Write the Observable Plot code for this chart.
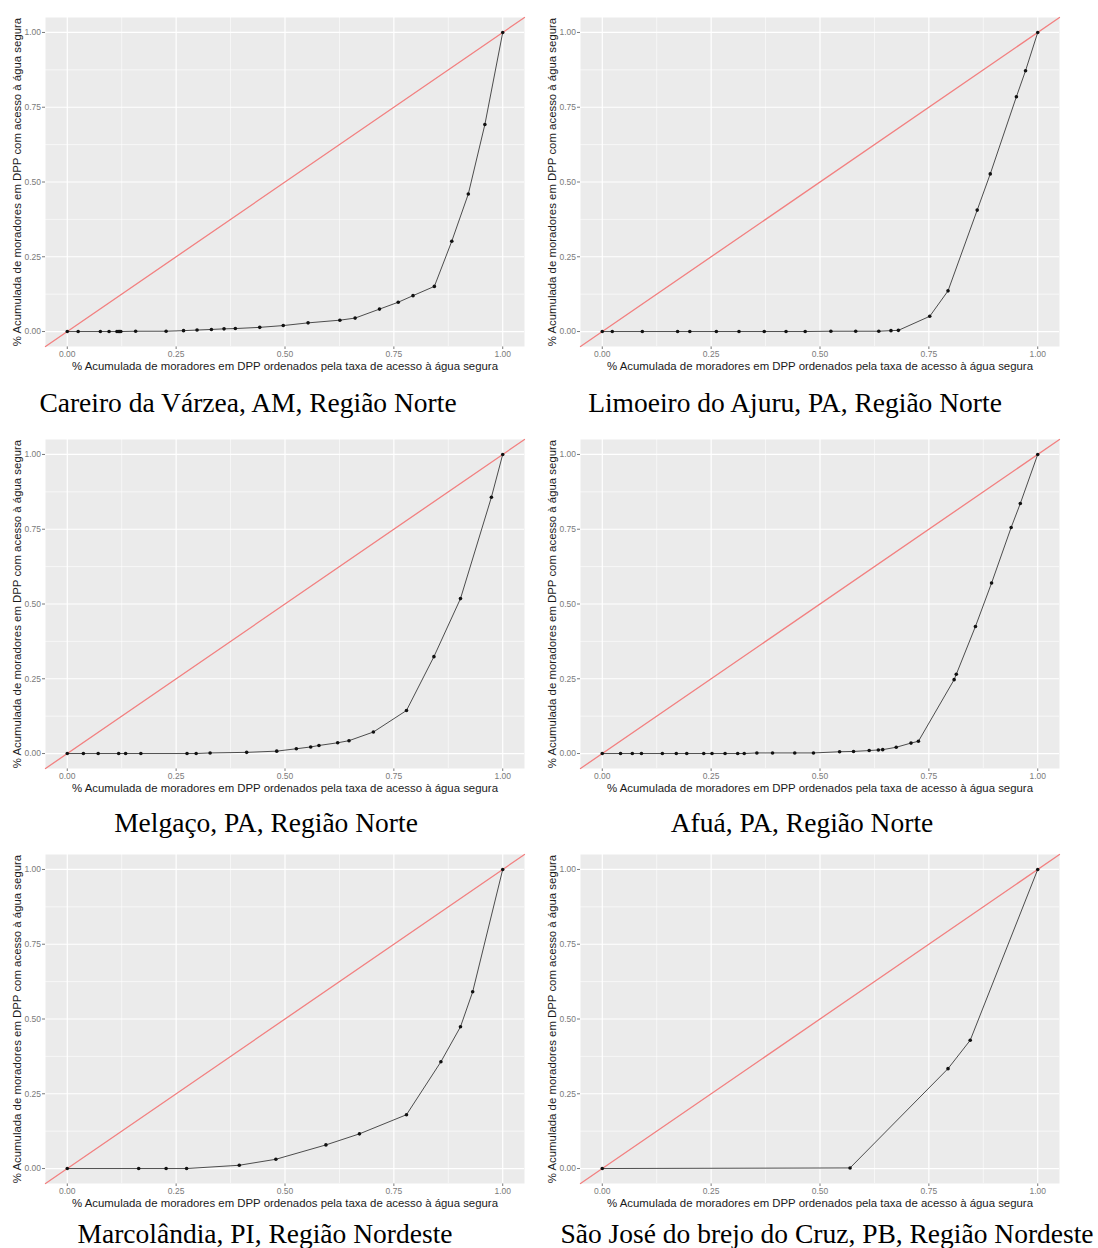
<!DOCTYPE html>
<html>
<head>
<meta charset="utf-8">
<script src="https://cdn.jsdelivr.net/npm/d3@7"></script>
<script src="https://cdn.jsdelivr.net/npm/@observablehq/plot@0.6"></script>
<style>
  html, body { margin: 0; padding: 0; background: #fff; }
  #root { position: relative; width: 1098px; height: 1248px; overflow: hidden; }
  .panel { position: absolute; }
  .caption { position: absolute; width: 700px; text-align: center; font-family: "Liberation Serif", "Times New Roman", serif; font-size: 27.5px; line-height: 28px; color: #000; white-space: nowrap; }
</style>
</head>
<body>
<div id="root"></div>
<script>
// ---- tick labels / axes text ----
const majorTicks = [0, 0.25, 0.5, 0.75, 1];
const minorTicks = [0.125, 0.375, 0.625, 0.875];
const xTitle = "% Acumulada de moradores em DPP ordenados pela taxa de acesso à água segura";
const yTitle = "% Acumulada de moradores em DPP com acesso à água segura";
const captions = [
  "Careiro da Várzea, AM, Região Norte",
  "Limoeiro do Ajuru, PA, Região Norte",
  "Melgaço, PA, Região Norte",
  "Afuá, PA, Região Norte",
  "Marcolândia, PI, Região Nordeste",
  "São José do brejo do Cruz, PB, Região Nordeste"
];

// ---- series ----
const careiroX = [0, 0.025, 0.076, 0.096, 0.114, 0.117, 0.120, 0.123, 0.157, 0.227, 0.267, 0.298, 0.331, 0.360, 0.386, 0.442, 0.496, 0.553, 0.626, 0.661, 0.717, 0.760, 0.794, 0.843, 0.883, 0.921, 0.959, 1];
const careiroY = [0, 0, 0, 0, 0, 0, 0, 0, 0.001, 0.001, 0.003, 0.005, 0.007, 0.009, 0.010, 0.014, 0.020, 0.029, 0.038, 0.045, 0.075, 0.098, 0.120, 0.151, 0.302, 0.460, 0.692, 1];

const limoeiroX = [0, 0.023, 0.092, 0.173, 0.201, 0.262, 0.314, 0.372, 0.422, 0.466, 0.525, 0.582, 0.635, 0.663, 0.680, 0.752, 0.794, 0.861, 0.891, 0.951, 0.972, 1];
const limoeiroY = [0, 0, 0, 0, 0, 0, 0, 0, 0, 0, 0.001, 0.001, 0.001, 0.003, 0.004, 0.051, 0.136, 0.406, 0.527, 0.785, 0.872, 1];

const melgacoX = [0, 0.037, 0.071, 0.118, 0.134, 0.169, 0.275, 0.296, 0.328, 0.412, 0.481, 0.526, 0.559, 0.578, 0.621, 0.647, 0.703, 0.779, 0.842, 0.903, 0.974, 1];
const melgacoY = [0, 0, 0, 0, 0, 0, 0, 0, 0.002, 0.004, 0.008, 0.016, 0.022, 0.027, 0.036, 0.043, 0.072, 0.144, 0.324, 0.518, 0.857, 1];

const afuaX = [0, 0.042, 0.069, 0.090, 0.138, 0.170, 0.194, 0.233, 0.252, 0.282, 0.311, 0.326, 0.355, 0.391, 0.442, 0.485, 0.545, 0.577, 0.613, 0.634, 0.644, 0.675, 0.709, 0.726, 0.808, 0.813, 0.857, 0.894, 0.939, 0.960, 1];
const afuaY = [0, 0, 0, 0, 0, 0, 0, 0, 0, 0, 0, 0, 0.002, 0.002, 0.002, 0.002, 0.006, 0.007, 0.010, 0.012, 0.013, 0.021, 0.035, 0.041, 0.247, 0.265, 0.425, 0.570, 0.756, 0.836, 1];

const marcolandiaX = [0, 0.164, 0.227, 0.274, 0.395, 0.479, 0.594, 0.671, 0.779, 0.858, 0.903, 0.931, 1];
const marcolandiaY = [0, 0, 0, 0, 0.011, 0.031, 0.079, 0.116, 0.180, 0.357, 0.474, 0.591, 1];

const saoJoseX = [0, 0.569, 0.794, 0.845, 1];
const saoJoseY = [0, 0.002, 0.334, 0.429, 1];

const seriesX = [careiroX, limoeiroX, melgacoX, afuaX, marcolandiaX, saoJoseX];
const seriesY = [careiroY, limoeiroY, melgacoY, afuaY, marcolandiaY, saoJoseY];

// ---- layout ----
const domain = [-0.05, 1.05];
const colLeft = [0, 535];
const rowTop = [0, 422, 837];
const captionCenter = [[248, 795], [266, 802], [265, 827]];
const captionBaseline = [412, 832, 1243];
const fmt = d3.format(".2f");
const root = document.getElementById("root");

seriesX.forEach((xs, i) => {
  const row = Math.floor(i / 2), col = i % 2;
  const data = xs.map((x, j) => ({x, y: seriesY[i][j]}));
  const diag = domain.map(v => ({x: v, y: v}));
  const chart = Plot.plot({
    width: 540,
    height: 374,
    marginLeft: 45,
    marginRight: 16,
    marginTop: 17,
    marginBottom: 28,
    style: {fontFamily: "Liberation Sans, Arial, sans-serif", fontSize: "8.5px", color: "#7a7a7a", background: "transparent", overflow: "visible"},
    x: {domain, ticks: majorTicks, tickFormat: fmt, tickSize: 3, tickPadding: 1.5, label: null},
    y: {domain, ticks: majorTicks, tickFormat: fmt, tickSize: 3, tickPadding: 1.5, label: null},
    marks: [
      Plot.frame({fill: "#EBEBEB", stroke: null}),
      Plot.ruleX(minorTicks, {stroke: "#fff", strokeWidth: 0.6}),
      Plot.ruleY(minorTicks, {stroke: "#fff", strokeWidth: 0.6}),
      Plot.ruleX(majorTicks, {stroke: "#fff", strokeWidth: 1.2}),
      Plot.ruleY(majorTicks, {stroke: "#fff", strokeWidth: 1.2}),
      Plot.line(diag, {x: "x", y: "y", stroke: "#F28080", strokeWidth: 1.3}),
      Plot.line(data, {x: "x", y: "y", stroke: "#3a3a3a", strokeWidth: 0.9}),
      Plot.dot(data, {x: "x", y: "y", r: 1.8, fill: "#111", stroke: null}),
      Plot.text([xTitle], {text: d => d, frameAnchor: "bottom", lineAnchor: "middle", textAnchor: "middle", dy: 20, fill: "#1a1a1a", fontSize: 11.4}),
      Plot.text([yTitle], {text: d => d, frameAnchor: "left", lineAnchor: "middle", textAnchor: "middle", rotate: -90, dx: -28, fill: "#1a1a1a", fontSize: 11.4})
    ]
  });
  const wrap = document.createElement("div");
  wrap.className = "panel";
  wrap.style.left = colLeft[col] + "px";
  wrap.style.top = rowTop[row] + "px";
  wrap.appendChild(chart);
  root.appendChild(wrap);

  const cap = document.createElement("div");
  cap.className = "caption";
  cap.textContent = captions[i];
  cap.style.left = (captionCenter[row][col] - 350) + "px";
  cap.style.top = (captionBaseline[row] - 23) + "px";
  root.appendChild(cap);
});
</script>
</body>
</html>
